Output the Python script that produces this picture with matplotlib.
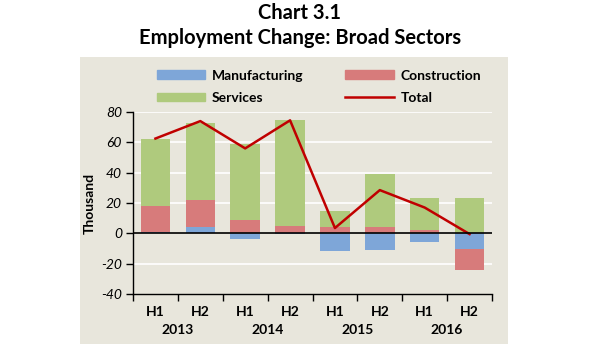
import numpy as np
import matplotlib.pyplot as plt
from matplotlib.patches import Rectangle
from matplotlib.lines import Line2D

# data (thousand)
halves = ['H1', 'H2', 'H1', 'H2', 'H1', 'H2', 'H1', 'H2']
years = ['2013', '2014', '2015', '2016']
manufacturing = [1, 4, -3.5, -0.5, -11.5, -11, -5.5, -10.5]
construction = [17, 18, 9, 5, 4, 4.5, 2, -13.5]
services = [44, 51, 50, 70, 11, 34.5, 21, 23.5]
total = [62.5, 74, 56, 74.5, 3.5, 28.5, 17, -0.5]

c_man = '#7ea6d8'
c_con = '#d77b7b'
c_ser = '#afca7d'
c_tot = '#c00000'
bg = '#e8e6dc'

plt.rcParams['font.family'] = ['Lato', 'DejaVu Sans']

fig = plt.figure(figsize=(6, 3.6), dpi=100)
# beige chart area behind everything
bgax = fig.add_axes([80 / 600, 1 - 344 / 360, 428 / 600, 287 / 360], zorder=-1)
bgax.set_facecolor(bg)
bgax.set_xticks([])
bgax.set_yticks([])
for s in bgax.spines.values():
    s.set_visible(False)

ax = fig.add_axes([133 / 600, 1 - 294 / 360, 359 / 600, 182 / 360])
ax.set_facecolor('none')

x = np.arange(len(halves))
w = 0.66
pos_base = np.zeros(len(x))
neg_base = np.zeros(len(x))
for vals, col in [(manufacturing, c_man), (construction, c_con), (services, c_ser)]:
    vals = np.array(vals, dtype=float)
    base = np.where(vals >= 0, pos_base, neg_base)
    ax.bar(x, vals, w, bottom=base, color=col, zorder=2)
    pos_base = pos_base + np.where(vals >= 0, vals, 0)
    neg_base = neg_base + np.where(vals < 0, vals, 0)

ax.plot(x, total, color=c_tot, lw=1.8, zorder=3)
ax.axhline(0, color='black', lw=1.2, zorder=4)

ax.set_xlim(-0.5, len(x) - 0.5)
ax.set_ylim(-40, 80)
ax.set_yticks(range(-40, 81, 20))
ax.set_yticklabels([str(v) for v in range(-40, 81, 20)], style='italic', fontsize=10)
for v in [-20, 20, 40, 60, 80]:
    ax.axhline(v, color='white', lw=1.2, zorder=1)

ax.set_xticks(np.arange(-0.5, len(x), 1))
ax.set_xticklabels([])
for i, h in enumerate(halves):
    ax.text(i, -52, h, ha='center', va='center', fontsize=10, fontweight='bold', clip_on=False)
for j, yr in enumerate(years):
    ax.text(2 * j + 0.5, -63.5, yr, ha='center', va='center', fontsize=10, fontweight='bold',
            clip_on=False)

for s in ['top', 'right']:
    ax.spines[s].set_visible(False)
ax.spines['left'].set_linewidth(1.0)
ax.spines['bottom'].set_linewidth(1.0)
ax.tick_params(axis='both', direction='out', length=5, width=1)
ax.tick_params(axis='y', pad=3)
ax.set_ylabel('Thousand', fontsize=10, fontweight='bold', labelpad=4)

# legend fills column-wise, so order gives rows Manufacturing/Construction, Services/Total
handles = [Rectangle((0, 0), 1, 1, color=c_man), Rectangle((0, 0), 1, 1, color=c_ser),
           Rectangle((0, 0), 1, 1, color=c_con), Line2D([0], [0], color=c_tot, lw=1.8)]
labels = ['Manufacturing', 'Services', 'Construction', 'Total']
fig.legend(handles, labels, ncol=2, loc='upper left', bbox_to_anchor=(144 / 600, 1 - 57 / 360),
           frameon=False, prop={'weight': 'bold', 'size': 10},
           handlelength=3.5, handleheight=0.6, handletextpad=0.5,
           columnspacing=3.0, labelspacing=0.75)

fig.text(0.5, 1 - 13 / 360, 'Chart 3.1', ha='center', va='center', fontsize=14.5, fontweight='bold')
fig.text(0.5, 1 - 38 / 360, 'Employment Change: Broad Sectors', ha='center', va='center',
         fontsize=14.5, fontweight='bold')

fig.savefig('out.png', dpi=100, facecolor='white')
